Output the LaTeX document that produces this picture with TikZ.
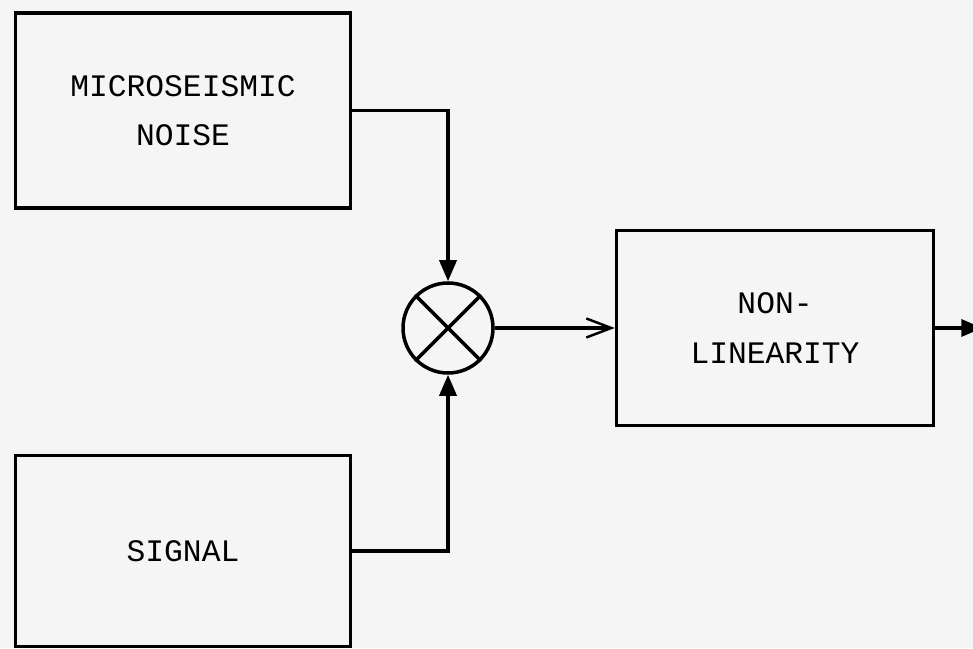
\documentclass[tikz,border=0pt]{standalone}
\usepackage{fontspec}
\newfontfamily\typefont{Liberation Mono}
\usetikzlibrary{arrows.meta, positioning}
\tikzset{
  block/.style={rectangle, draw, line width=2pt, minimum width=6.7cm,
                minimum height=3.9cm, align=center,
                font=\typefont\fontsize{17.8}{28}\selectfont},
  mixer/.style={circle, draw, line width=2pt, minimum size=1.8cm, inner sep=0pt},
  arrow/.style={-{Triangle[length=0.42cm, width=0.34cm]}, line width=2pt},
  openarrow/.style={-{Straight Barb[length=0.5cm, width=0.38cm, line width=1.4pt]}, line width=2pt},
}
\begin{document}
\begin{tikzpicture}[node distance=1cm and 1cm]

  \fill[black!4] (0,0) rectangle (19.46,12.96);
  \useasboundingbox (0,0) rectangle (19.46,12.96);

  \node[block] (noise) at (3.66,10.75) {MICROSEISMIC\\NOISE};
  \node[block, below=4.88cm of noise, minimum height=3.82cm] (signal) {SIGNAL};

  \node[mixer, right=0.98cm of noise, yshift=-4.35cm] (mix) {};
  \draw[line width=2pt] (mix.north west) -- (mix.south east);
  \draw[line width=2pt] (mix.north east) -- (mix.south west);

  \node[block, right=2.4cm of mix, minimum width=6.34cm] (nonlin) {NON-\\LINEARITY};
  \coordinate[right=0.94cm of nonlin] (out);

  \draw[arrow] (noise.east) -| (mix.north);
  \draw[arrow] (signal.east) -| (mix.south);
  \draw[openarrow] (mix.east) -- (nonlin.west);
  \draw[arrow] (nonlin) -- (out);

\end{tikzpicture}
\end{document}
